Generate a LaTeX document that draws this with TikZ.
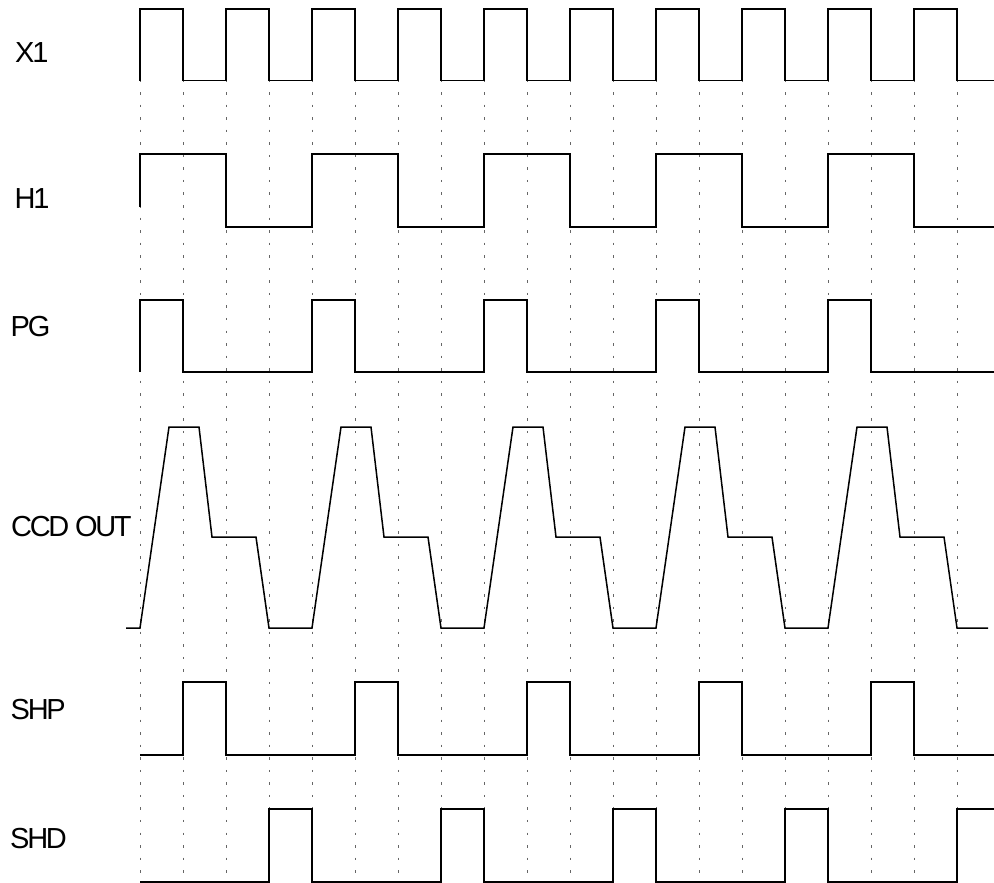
\documentclass[tikz,border=0pt]{standalone}
\usepackage{fontspec}
\newfontfamily\lblfont{Liberation Sans}[LetterSpace=-8]
\tikzset{
  sig/.style={line width=1.5pt, line join=miter, black},
  gridline/.style={line width=0.9pt, black!60, dash pattern=on 2.5pt off 10.05pt},
  lbl/.style={anchor=base west, inner sep=0pt, font=\lblfont\fontsize{29}{34}\selectfont}
}
\begin{document}
\begin{tikzpicture}[x=1pt,y=-1pt]
\useasboundingbox (0,0) rectangle (994,883);
% dotted timing lines
\foreach \k in {0,...,19} {
  \draw[gridline] ({140+43*\k},79.5) -- ({140+43*\k},882);
}
% labels
\node[lbl] (lx1) at (15,63) {X1};
\node[lbl] (lh1) at (14.5,208) {H1};
\node[lbl] (lpg) at (10.5,336) {PG};
\node[lbl] (lccd) at (11,536) {CCD OUT};
\node[lbl] (lshp) at (10.5,719) {SHP};
\node[lbl] (lshd) at (10,848) {SHD};
% X1
\draw[sig] (140,80.7) foreach \k in {0,2,...,18} { -- ({140+43*\k},9) -- ({183+43*\k},9) -- ({183+43*\k},80.7) -- ({min(226+43*\k,994)},80.7) };
% H1
\draw[sig] (140,207) foreach \k in {0,4,...,16} { -- ({140+43*\k},154) -- ({226+43*\k},154) -- ({226+43*\k},227) -- ({min(312+43*\k,994)},227) };
% PG
\draw[sig] (140,372) foreach \k in {0,4,...,16} { -- ({140+43*\k},300) -- ({183+43*\k},300) -- ({183+43*\k},372) -- ({min(312+43*\k,994)},372) };
% CCD OUT
\draw[sig] (126,628) -- (140,628) foreach \j in {0,...,4} { -- ({169+172*\j},427) -- ({199+172*\j},427) -- ({212+172*\j},537) -- ({256+172*\j},537) -- ({269+172*\j},628) -- ({min(312+172*\j,988)},628) };
% SHP
\draw[sig] (140,755) foreach \k in {1,5,...,17} { -- ({140+43*\k},755) -- ({140+43*\k},682) -- ({183+43*\k},682) -- ({183+43*\k},755) } -- (994,755);
% SHD
\draw[sig] (140,882) foreach \k in {3,7,11,15} { -- ({140+43*\k},882) -- ({140+43*\k},809) -- ({183+43*\k},809) -- ({183+43*\k},882) } -- (957,882) -- (957,809) -- (994,809);
\end{tikzpicture}
\end{document}
